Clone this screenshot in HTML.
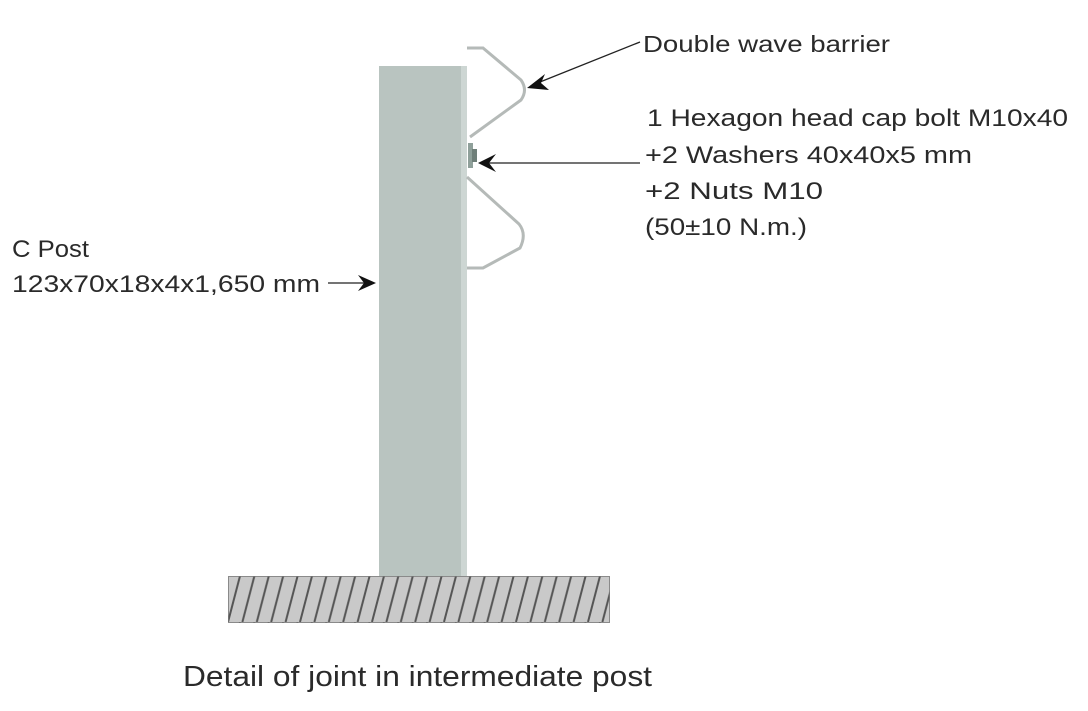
<!DOCTYPE html>
<html><head><meta charset="utf-8"><style>
html,body{margin:0;padding:0;background:#fff;}
svg{display:block;}
text{font-family:"Liberation Sans",sans-serif;fill:#2a2a2a;}
</style></head><body>
<svg width="1088" height="711" viewBox="0 0 1088 711" xmlns="http://www.w3.org/2000/svg">
<defs>
<pattern id="hatch" patternUnits="userSpaceOnUse" x="228" y="576" width="14.4" height="46">
<line x1="0" y1="46" x2="12" y2="0" stroke="#555" stroke-width="2"/>
<line x1="14.4" y1="46" x2="26.4" y2="0" stroke="#555" stroke-width="2"/>
</pattern>
</defs>
<rect x="379" y="66" width="88" height="511" fill="#b9c4c0"/>
<rect x="461" y="66" width="6" height="511" fill="#cdd6d3"/>
<rect x="228.5" y="576.5" width="381" height="46" fill="#c9c9c9" stroke="#8a8a8a" stroke-width="1"/>
<rect x="228.5" y="576.5" width="381" height="46" fill="url(#hatch)"/>
<path d="M467,48 L483,48 L521,80 Q528,90 521,100 L470,137" fill="none" stroke="#b5bab8" stroke-width="3"/>
<path d="M467,177 L519,224 Q527,234 520,248 L483,268 L467,268" fill="none" stroke="#b5bab8" stroke-width="3"/>
<rect x="468" y="143" width="5" height="25" fill="#8fa09a"/>
<rect x="472" y="149" width="5" height="13" fill="#6f7f79"/>
<line x1="640" y1="42" x2="535" y2="84" stroke="#222" stroke-width="1.3"/>
<path d="M527,88 L545,74 L541,83 L549,90 Z" fill="#111"/>
<line x1="640" y1="163" x2="486" y2="163" stroke="#222" stroke-width="1.3"/>
<path d="M478,163 L496,154 L489,163 L496,172 Z" fill="#111"/>
<line x1="328" y1="283" x2="366" y2="283" stroke="#222" stroke-width="1.3"/>
<path d="M376,283 L358,275 L364,283 L358,291 Z" fill="#111"/>
<text x="643" y="52" font-size="23" textLength="247" lengthAdjust="spacingAndGlyphs">Double wave barrier</text>
<text x="647" y="126" font-size="24" textLength="421" lengthAdjust="spacingAndGlyphs">1 Hexagon head cap bolt M10x40</text>
<text x="645" y="163" font-size="24" textLength="327" lengthAdjust="spacingAndGlyphs">+2  Washers 40x40x5 mm</text>
<text x="645" y="199" font-size="24" textLength="178" lengthAdjust="spacingAndGlyphs">+2  Nuts M10</text>
<text x="645" y="235" font-size="24" textLength="162" lengthAdjust="spacingAndGlyphs">(50±10 N.m.)</text>
<text x="12" y="257" font-size="24" textLength="77" lengthAdjust="spacingAndGlyphs">C Post</text>
<text x="12" y="292" font-size="24" textLength="308" lengthAdjust="spacingAndGlyphs">123x70x18x4x1,650 mm</text>
<text x="183" y="686" font-size="29" textLength="469" lengthAdjust="spacingAndGlyphs">Detail of joint in intermediate post</text>
</svg>
</body></html>
